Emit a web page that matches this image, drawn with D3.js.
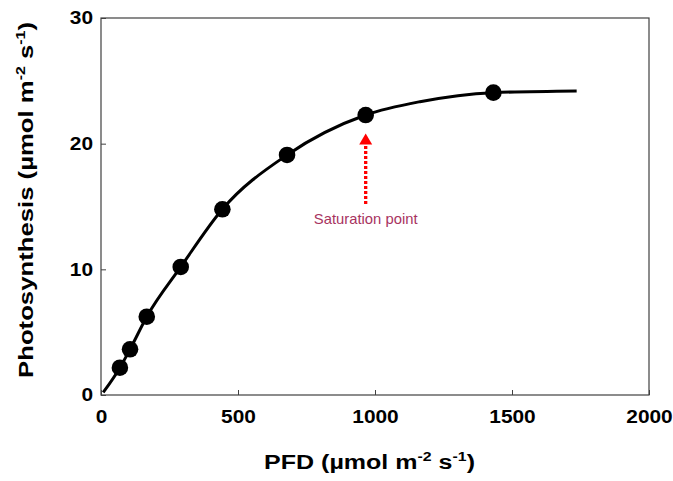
<!DOCTYPE html>
<html>
<head>
<meta charset="utf-8">
<script src="https://cdn.jsdelivr.net/npm/d3@7"></script>
<style>
  body { margin: 0; background: #fff; }
  text { font-family: "Liberation Sans", Arial, sans-serif; }
</style>
</head>
<body>
<svg id="chart" width="673" height="481"></svg>
<script>
// measured points: PFD vs photosynthesis
const pfd = [69, 106, 167, 291, 443, 679, 966, 1432];
const photo = [2.17, 3.64, 6.23, 10.19, 14.78, 19.10, 22.28, 24.06];

// fitted curve
const curvePfd = [8, 69, 106, 167, 291, 443, 679, 966, 1164, 1432, 1736];
const curvePhoto = [0.2, 2.17, 3.64, 6.23, 10.19, 14.78, 19.10, 22.28, 23.34, 24.06, 24.2];

const xTicks = [0, 500, 1000, 1500, 2000];
const yTicks = [0, 10, 20, 30];

const satPfd = 966;
const arrowFrom = 15.2, arrowTo = 20.8;

const svg = d3.select("#chart");
const pLeft = 101, pRight = 649, pTop = 18, pBottom = 395;

const x = d3.scaleLinear().domain([0, 2000]).range([pLeft, pRight]);
const y = d3.scaleLinear().domain([0, 30]).range([pBottom, pTop]);

// the source font is wider than Arial: stretch text along its run
function fit(sel, len, cx, cy, rot) {
  const w = sel.node().getBBox().width;
  sel.attr("transform", `translate(${cx},${cy}) rotate(${rot}) scale(${len / w},1)`);
}

// frame
svg.append("rect")
  .attr("x", pLeft).attr("y", pTop)
  .attr("width", pRight - pLeft).attr("height", pBottom - pTop)
  .attr("fill", "none").attr("stroke", "#404040").attr("stroke-width", 1.2);

const xAxis = svg.append("g")
  .attr("transform", `translate(0, ${pBottom})`)
  .call(d3.axisBottom(x).tickValues(xTicks).tickSizeInner(-5).tickSizeOuter(0).tickPadding(15).tickFormat(d3.format("d")));

const yAxis = svg.append("g")
  .attr("transform", `translate(${pLeft}, 0)`)
  .call(d3.axisLeft(y).tickValues(yTicks).tickSizeInner(-5).tickSizeOuter(0).tickPadding(8));

[xAxis, yAxis].forEach(g => {
  g.select(".domain").remove();
  g.selectAll(".tick line").attr("stroke", "#404040");
  g.selectAll("text")
    .attr("font-family", "Liberation Sans, Arial, sans-serif")
    .attr("font-size", 18).attr("font-weight", "bold").attr("fill", "#000");
});
xAxis.selectAll(".tick text").attr("transform", "scale(1.16,1)");
yAxis.selectAll(".tick text").attr("x", 0).attr("transform", "translate(-8,0) scale(1.16,1)");

// curve
const line = d3.line()
  .x((d, i) => x(curvePfd[i]))
  .y(d => y(d))
  .curve(d3.curveMonotoneX);

svg.append("path")
  .datum(curvePhoto)
  .attr("d", line)
  .attr("fill", "none").attr("stroke", "#000").attr("stroke-width", 3);

svg.selectAll("circle.pt")
  .data(photo)
  .join("circle")
  .attr("class", "pt")
  .attr("cx", (d, i) => x(pfd[i]))
  .attr("cy", d => y(d))
  .attr("r", 8.3)
  .attr("fill", "#000");

// saturation arrow
svg.append("line")
  .attr("x1", x(satPfd)).attr("x2", x(satPfd))
  .attr("y1", y(arrowFrom)).attr("y2", y(arrowTo) + 9)
  .attr("stroke", "#ff0000").attr("stroke-width", 3.3)
  .attr("stroke-dasharray", "3,2");

const ax = x(satPfd), ay = y(arrowTo);
svg.append("path")
  .attr("d", `M${ax},${ay} L${ax - 6.5},${ay + 11} L${ax + 6.5},${ay + 11} Z`)
  .attr("fill", "#ff0000");

const sat = svg.append("text")
  .attr("text-anchor", "middle")
  .attr("font-size", 14)
  .attr("fill", "#a8345f")
  .text("Saturation point");
fit(sat, 104, x(satPfd), 224, 0);

// axis titles
const xt = svg.append("text")
  .attr("text-anchor", "middle")
  .attr("font-size", 20.5).attr("font-weight", "bold");
xt.append("tspan").text("PFD (\u00b5mol m");
xt.append("tspan").attr("font-size", 13).attr("dy", -8).text("-2");
xt.append("tspan").attr("dy", 8).text(" s");
xt.append("tspan").attr("font-size", 13).attr("dy", -8).text("-1");
xt.append("tspan").attr("dy", 8).text(")");
fit(xt, 211, 369.5, 469, 0);

const yt = svg.append("text")
  .attr("text-anchor", "middle")
  .attr("font-size", 21).attr("font-weight", "bold");
yt.append("tspan").text("Photosynthesis (\u00b5mol m");
yt.append("tspan").attr("font-size", 13).attr("dy", -8).text("-2");
yt.append("tspan").attr("dy", 8).text(" s");
yt.append("tspan").attr("font-size", 13).attr("dy", -8).text("-1");
yt.append("tspan").attr("dy", 8).text(")");
fit(yt, 356, 32.5, 200, -90);
</script>
</body>
</html>
